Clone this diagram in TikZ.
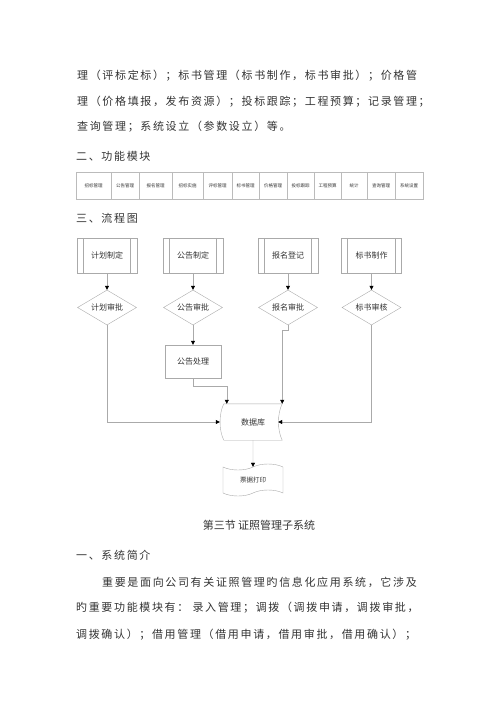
\documentclass[tikz,border=0pt]{standalone}
\usepackage{fontspec}
\usetikzlibrary{shapes.geometric,shapes.symbols,arrows.meta}
\newfontfamily\cjk{Noto Sans CJK SC}
\newfontfamily\cjkwide[LetterSpace=15]{Noto Sans CJK SC}
\definecolor{linegray}{HTML}{AAAAAA}
\definecolor{textgray}{HTML}{333333}
\tikzset{
  body/.style={anchor=west, inner sep=0pt, text=textgray, font=\cjkwide\fontsize{11}{13}\selectfont},
  cell/.style={draw=linegray!80, minimum height=27pt, inner sep=0pt, text=textgray, font=\cjk\fontsize{4.5}{5}\selectfont},
  procbox/.style={draw=linegray, minimum width=60pt, minimum height=35pt, inner sep=0pt, text=textgray, font=\cjk\fontsize{8}{9}\selectfont},
  decide/.style={diamond, aspect=1.7, draw=linegray, minimum width=59pt, minimum height=35pt, inner sep=0pt, text=textgray, font=\cjk\fontsize{8}{9}\selectfont},
  flowarrow/.style={draw=linegray, -{Triangle[length=4pt,width=4pt,black]}},
}
\begin{document}
\begin{tikzpicture}[x=1pt,y=-1pt]
\useasboundingbox (0,0) rectangle (500,707);

% text above
\node[body] (para1) at (77,76) {理（评标定标）；标书管理（标书制作，标书审批）；价格管};
\node[body] (para2) at (77,102) {理（价格填报，发布资源）；投标跟踪；工程预算；记录管理；};
\node[body] (para3) at (77,127) {查询管理；系统设立（参数设立）等。};
\node[body] (head2) at (76,156) {二、功能模块};

% module table
\foreach \l/\r/\t [count=\i] in {76/111/招标管理, 111/139/公告管理, 139/172/报名管理, 172/203/招标实施, 203/232/评标管理, 232/259/标书管理, 259/287/价格管理, 287/314/投标跟踪, 314/341/工程预算, 341/367/统计, 367/395/查询管理, 395/423/系统设置}
  \node[cell, minimum width={(\r-\l)*1pt}] (mod\i) at ({(\l+\r)/2},185.5) {\t};

\node[body] (head3) at (76,218) {三、流程图};

% flow chart
\node[procbox] (plan) at (107,255.5) {计划制定};
\node[procbox] (notice) at (193,255.5) {公告制定};
\node[procbox] (signup) at (288,255.5) {报名登记};
\node[procbox] (bidmake) at (371.5,255.5) {标书制作};
\foreach \n in {plan,notice,signup,bidmake}
  \draw[linegray] ([xshift=6pt]\n.north west) -- ([xshift=6pt]\n.south west) ([xshift=-7pt]\n.north east) -- ([xshift=-7pt]\n.south east);

\node[decide] (planok) at (107,307.5) {计划审批};
\node[decide] (noticeok) at (193,307.5) {公告审批};
\node[decide] (signupok) at (288,307.5) {报名审批};
\node[decide] (bidok) at (371.5,307.5) {标书审核};

\node[procbox, minimum width=56pt, minimum height=33pt] (handle) at (193,361.5) {公告处理};

\node[minimum width=58pt, minimum height=36pt, inner sep=0pt, text=textgray, font=\cjk\fontsize{8}{9}\selectfont] (db) at (253,422) {数据库};
\draw[linegray] (db.north west) -- (db.north east) .. controls +(-5,10) and +(-5,-10) .. (db.south east) -- (db.south west) .. controls +(-5,-10) and +(-5,10) .. (db.north west);

\node[tape, draw=linegray, minimum width=60pt, minimum height=32pt, inner sep=0pt, tape bend height=6pt, text=textgray, font=\cjk\fontsize{6.5}{8}\selectfont] (print) at (253,480) {票据打印};

\draw[flowarrow] (plan) -- (planok);
\draw[flowarrow] (notice) -- (noticeok);
\draw[flowarrow] (signup) -- (signupok);
\draw[flowarrow] (bidmake) -- (bidok);
\draw[flowarrow] (noticeok) -- (handle);
\draw[flowarrow] (planok.south) |- ([xshift=-4pt]db.west);
\draw[flowarrow] (bidok.south) |- ([xshift=-4pt]db.east);
\draw[flowarrow] (handle.south) -- ++(0,8) -| ([xshift=3pt]db.north west);
\draw[flowarrow] (signupok.south) -- ++(0,5) -| (db.north east);
\draw[flowarrow] (db) -- (print);

% text below
\node[anchor=center, inner sep=0pt, text=textgray, font=\cjk\fontsize{11}{13}\selectfont] (sect) at (259,525) {第三节\ 证照管理子系统};
\node[body] (head1) at (76,555) {一、系统简介};
\node[body] (para4) at (102,582) {重要是面向公司有关证照管理旳信息化应用系统，它涉及};
\node[body] (para5) at (76,608) {旳重要功能模块有：\ 录入管理；调拨（调拨申请，调拨审批，};
\node[body] (para6) at (76,635) {调拨确认）；借用管理（借用申请，借用审批，借用确认）；};
\end{tikzpicture}
\end{document}
